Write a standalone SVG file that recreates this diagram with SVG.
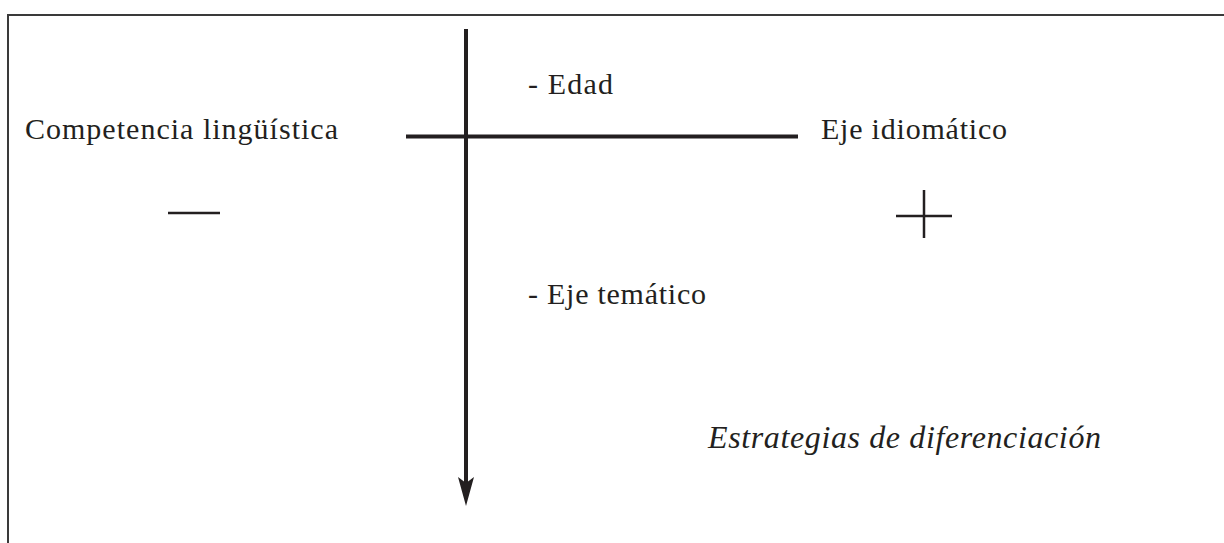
<svg xmlns="http://www.w3.org/2000/svg" width="1224" height="543" viewBox="0 0 1224 543">
<style>
.t{font-family:"Liberation Serif","Times New Roman",serif;font-size:30px;fill:#231f20}
.i{font-style:italic;font-size:32px}
.ax{stroke:#231f20;stroke-width:4;fill:none}
.sg{stroke:#231f20;stroke-width:2.5;fill:none}
.fr{stroke:#3a3a3a;stroke-width:2;fill:none}
</style>
<rect width="1224" height="543" fill="#fff"/>
<path class="fr" d="M8,543 V15 H1224"/>
<g id="connectors">
<line class="ax" x1="466" y1="29" x2="466" y2="484"/>
<polygon points="458,477 466,483 474,477 466,506" fill="#231f20"/>
<line class="ax" x1="406" y1="136.5" x2="798" y2="136.5"/>
</g>
<g id="competencia"><text class="t" x="25" y="139" textLength="313" lengthAdjust="spacing">Competencia lingüística</text></g>
<g id="minus"><line class="sg" x1="168" y1="213" x2="220" y2="213"/></g>
<g id="edad"><text class="t" x="528" y="94" textLength="85" lengthAdjust="spacing">- Edad</text></g>
<g id="eje-idiomatico"><text class="t" x="821" y="139" textLength="186" lengthAdjust="spacing">Eje idiomático</text></g>
<g id="plus"><line class="sg" x1="896" y1="216" x2="952" y2="216"/><line class="sg" x1="924" y1="190" x2="924" y2="238"/></g>
<g id="eje-tematico"><text class="t" x="528" y="304" textLength="178" lengthAdjust="spacing">- Eje temático</text></g>
<g id="estrategias"><text class="t i" x="708" y="448" textLength="393" lengthAdjust="spacing">Estrategias de diferenciación</text></g>
</svg>
